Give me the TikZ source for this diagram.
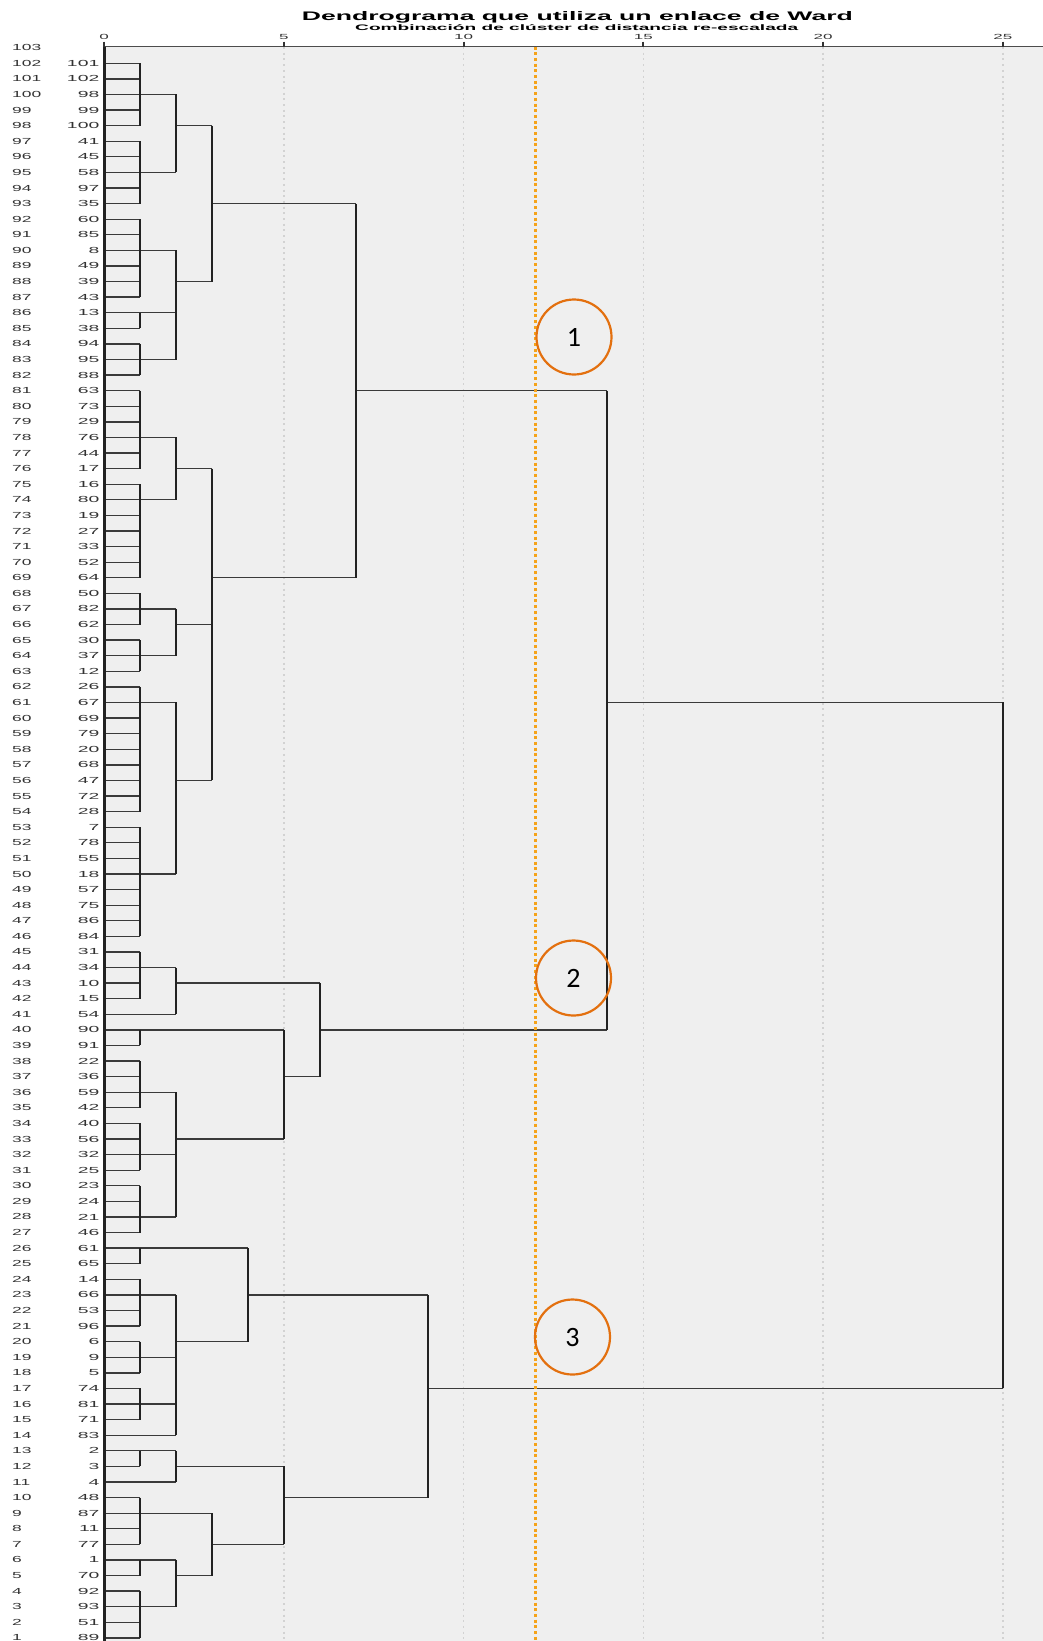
\documentclass[tikz,border=0pt]{standalone}
\usepackage{fontspec}
\setmainfont{Liberation Sans}
\newfontfamily\calfont{Carlito}
\usepackage{graphicx}
\definecolor{bggray}{HTML}{EFEFEF}
\definecolor{gridgray}{HTML}{D2D2D2}
\definecolor{cutorange}{HTML}{F5A31A}
\definecolor{circorange}{HTML}{E3700F}
\definecolor{hgray}{HTML}{3A3A3A}
\definecolor{vgray}{HTML}{222222}
\definecolor{labgray}{HTML}{333333}
\begin{document}
\begin{tikzpicture}[x=1pt,y=-1pt,
  declare function={yr(\r)=47.7+15.59*(103-\r); xv(\v)=104+35.95*\v;},
  hline/.style={line width=1.3pt, hgray},
  vline/.style={line width=2pt, vgray},
  gridline/.style={line width=1.5pt, gridgray, dash pattern=on 2pt off 3.7pt},
  cutline/.style={line width=3pt, cutorange, dash pattern=on 3pt off 2.7pt},
  rowlab/.style={font=\fontsize{8.8}{10}\selectfont, inner sep=0pt, text=labgray},
  ticklab/.style={font=\fontsize{7.4}{9}\selectfont, inner sep=0pt, text=labgray},
  groupcircle/.style={circle, draw=circorange, line width=2.2pt, minimum size=75pt, inner sep=0pt, font=\calfont\fontsize{28}{30}\selectfont}
]
\useasboundingbox (0,0) rectangle (1043,1641);
\fill[white] (0,0) rectangle (1043,1641);
% plot background
\fill[bggray] ({xv(0)},46.5) rectangle (1043,1641);
% grid lines
\foreach \v in {5,10,15,20,25}
  \draw[gridline] ({xv(\v)},47) -- ({xv(\v)},1641);
% axis
\draw[line width=1.5pt, gray!60!black] ({xv(0)},46.5) -- (1043,46.5);
\foreach \v in {0,5,10,15,20,25} {
  \draw[line width=2pt, gray!40!black] ({xv(\v)},41.5) -- ({xv(\v)},46.5);
  \node[ticklab] (T\v) at ({xv(\v)},36.5) {\scalebox{2.3}[1]{\v}};
}
% titles
\node[anchor=base west, inner sep=0pt] (title) at (301.7,20)
  {\resizebox{551pt}{9pt}{\bfseries Dendrograma que utiliza un enlace de Ward}};
\node[anchor=base west, inner sep=0pt] (subtitle) at (355,30)
  {\resizebox{443pt}{5.8pt}{\bfseries Combinaci\smash{ó}n de cl\smash{ú}ster de distancia re-escalada}};
% row labels
\foreach \r in {1,...,103}
  \node[rowlab, anchor=west] (L\r) at (12,{yr(\r)}) {\scalebox{1.98}[1]{\r}};
\foreach \c [count=\i] in {101,102,98,99,100,41,45,58,97,35,60,85,8,49,39,43,13,38,94,95,88,63,73,29,76,44,17,16,80,19,27,33,52,64,50,82,62,30,37,12,26,67,69,79,20,68,47,72,28,7,78,55,18,57,75,86,84,31,34,10,15,54,90,91,22,36,59,42,40,56,32,25,23,24,21,46,61,65,14,66,53,96,6,9,5,74,81,71,83,2,3,4,48,87,11,77,1,70,92,93,51,89} {
  \pgfmathtruncatemacro\rr{103-\i}
  \node[rowlab, anchor=east] (C\rr) at (99.5,{yr(\rr)}) {\scalebox{2.2}[1]{\c}};
}
% leaf lines
\foreach \r in {1,...,102}
  \draw[hline] ({xv(0)},{yr(\r)}) -- ({xv(1)},{yr(\r)});
\newcommand{\hseg}[3]{\draw[hline] ({xv(#1)},{yr(#3)}) -- ({xv(#2)},{yr(#3)});}
\newcommand{\vseg}[3]{\draw[vline] ({xv(#1)},{yr(#2)}) -- ({xv(#1)},{yr(#3)});}
\newcommand{\clus}[5]{\hseg{#1}{#5}{#4}\vseg{#1}{#2}{#3}}
% level 1
\clus{1}{102}{98}{100}{2}
\clus{1}{97}{93}{95}{2}
\clus{1}{92}{87}{90}{2}
\clus{1}{86}{85}{86}{2}
\clus{1}{84}{82}{83}{2}
\clus{1}{81}{76}{78}{2}
\clus{1}{75}{69}{74}{2}
\clus{1}{68}{66}{67}{2}
\clus{1}{65}{63}{64}{2}
\clus{1}{62}{54}{61}{2}
\clus{1}{53}{46}{50}{2}
\clus{1}{45}{42}{44}{2}
\clus{1}{40}{39}{40}{5}
\clus{1}{38}{35}{36}{2}
\clus{1}{34}{31}{32}{2}
\clus{1}{30}{27}{28}{2}
\clus{1}{26}{25}{26}{4}
\clus{1}{24}{21}{23}{2}
\clus{1}{20}{18}{19}{2}
\clus{1}{17}{15}{16}{2}
\clus{1}{13}{12}{13}{2}
\clus{1}{10}{7}{9}{3}
\clus{1}{6}{5}{6}{2}
\clus{1}{4}{1}{3}{2}
\hseg{1}{2}{41}
\hseg{1}{2}{14}
\hseg{1}{2}{11}
% level 2
\clus{2}{100}{95}{98}{3}
\clus{2}{90}{83}{88}{3}
\clus{2}{78}{74}{76}{3}
\clus{2}{67}{64}{66}{3}
\clus{2}{61}{50}{56}{3}
\clus{2}{44}{41}{43}{6}
\clus{2}{36}{28}{33}{5}
\clus{2}{23}{14}{20}{4}
\clus{2}{13}{11}{12}{5}
\clus{2}{6}{3}{5}{3}
% higher levels
\clus{3}{98}{88}{93}{7}
\clus{3}{76}{56}{69}{7}
\clus{3}{9}{5}{7}{5}
\clus{4}{26}{20}{23}{9}
\clus{5}{40}{33}{37}{6}
\clus{5}{12}{7}{10}{9}
\clus{6}{43}{37}{40}{14}
\clus{7}{93}{69}{81}{14}
\clus{9}{23}{10}{17}{25}
\clus{14}{81}{40}{61}{25}
\vseg{25}{61}{17}
% left edge
\draw[line width=3pt, vgray] ({xv(0)},46.5) -- ({xv(0)},1641);
% cut line
\draw[cutline] ({xv(12)},46.5) -- ({xv(12)},1641);
% group circles
\node[groupcircle] (g1) at (574,337) {1};
\node[groupcircle] (g2) at (573.5,978) {2};
\node[groupcircle] (g3) at (572.5,1337) {3};
\end{tikzpicture}
\end{document}
